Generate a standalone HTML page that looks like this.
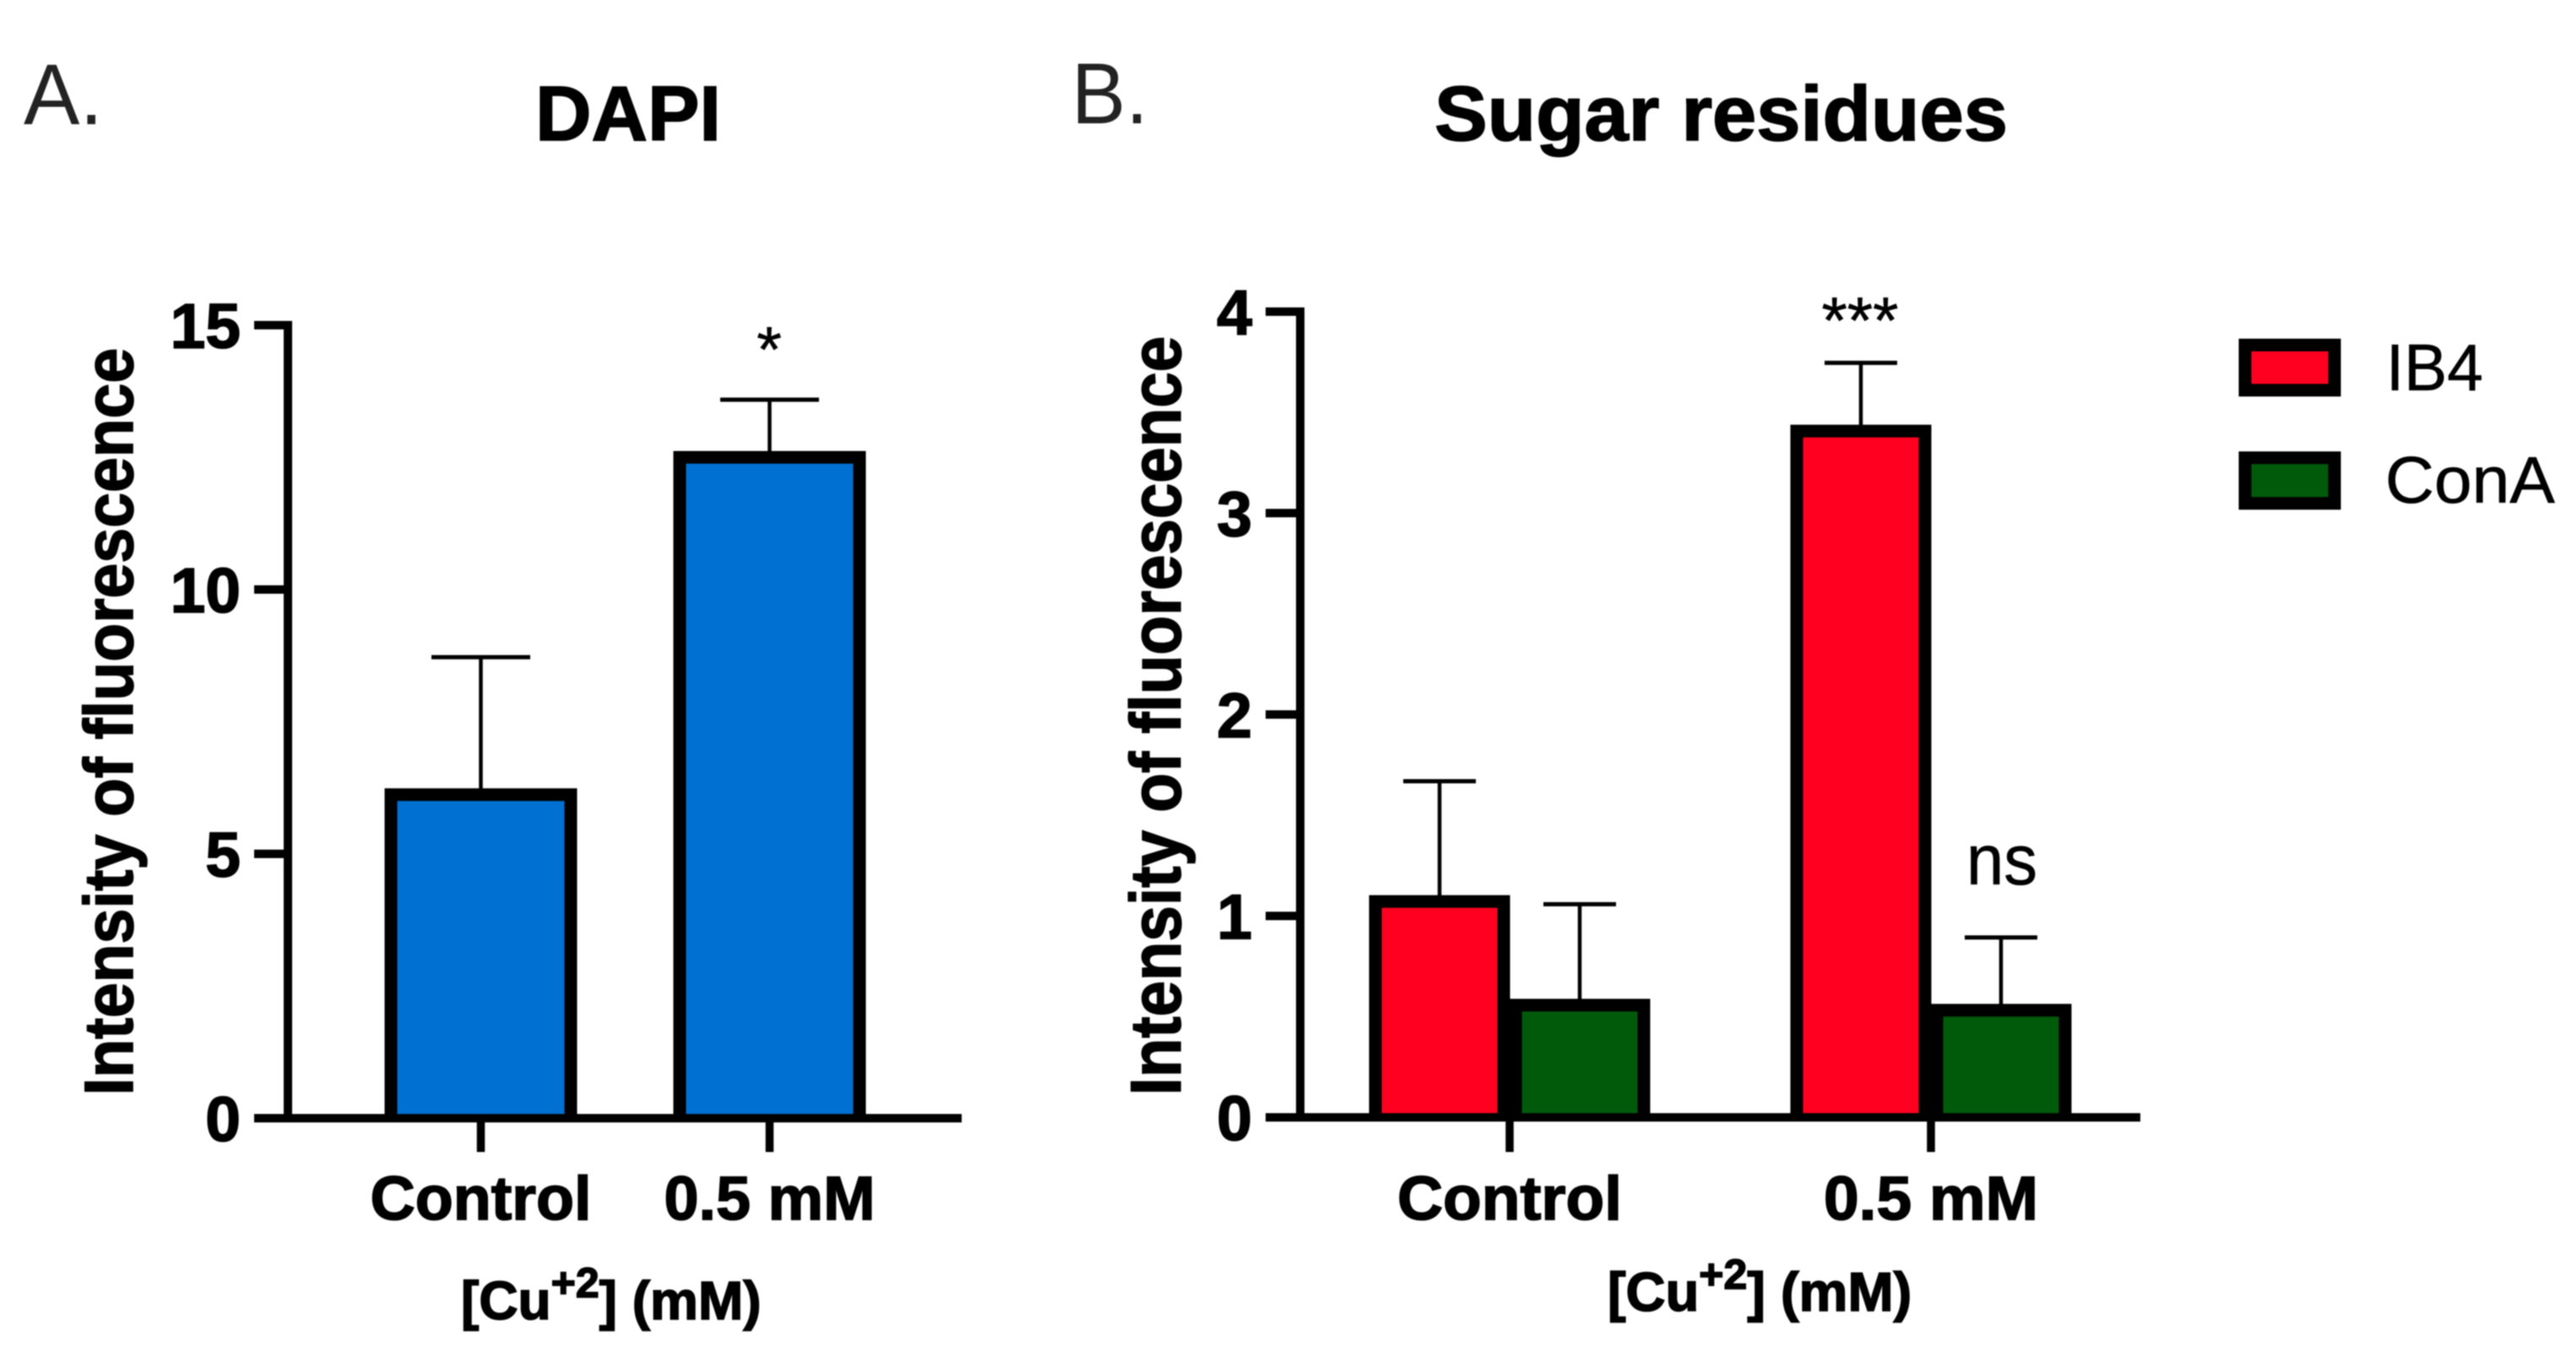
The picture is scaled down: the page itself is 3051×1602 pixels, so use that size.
<!DOCTYPE html>
<html lang="en">
<head>
<meta charset="utf-8">
<title>DAPI and Sugar residues fluorescence</title>
<style>
  html, body { margin: 0; padding: 0; background: #fff; }
  svg { display: block; filter: blur(0.7px); }
  text { font-family: "Liberation Sans", Arial, sans-serif; fill: #000; }
  .b { font-weight: 700; stroke: #000; stroke-width: 1.6px; }
  .r { stroke: #000; stroke-width: 0.6px; }
</style>
</head>
<body>
<svg id="figure" xmlns="http://www.w3.org/2000/svg" width="3051" height="1602" viewBox="0 0 3051 1602">
  <rect width="3051" height="1602" fill="#fff"/>

  <text x="28" y="147" font-size="102" style="fill:#222" textLength="94" lengthAdjust="spacingAndGlyphs">A.</text>
  <text x="1269" y="146" font-size="102" style="fill:#222" textLength="91" lengthAdjust="spacingAndGlyphs">B.</text>
  <text class="b" x="634" y="166" font-size="92" textLength="220" lengthAdjust="spacingAndGlyphs">DAPI</text>
  <text class="b" x="1699" y="166" font-size="92" textLength="679" lengthAdjust="spacingAndGlyphs">Sugar residues</text>

  <text class="b" transform="translate(157 1297) rotate(-90)" font-size="82" textLength="885" lengthAdjust="spacingAndGlyphs">Intensity of fluorescence</text>
  <text class="b" transform="translate(1398 1297) rotate(-90)" font-size="84" textLength="899" lengthAdjust="spacingAndGlyphs">Intensity of fluorescence</text>

  <text class="b" x="546" y="1562" font-size="64">[Cu<tspan font-size="50" dy="-26">+2</tspan><tspan dy="26">] (mM)</tspan></text>
  <text class="b" x="1904" y="1552" font-size="65">[Cu<tspan font-size="50" dy="-26">+2</tspan><tspan dy="26">] (mM)</tspan></text>

  <text class="r" x="911" y="440" font-size="76" text-anchor="middle">*</text>
  <text class="r" x="2203" y="406" font-size="78" text-anchor="middle">***</text>
  <text class="r" x="2329" y="1047" font-size="84" textLength="84" lengthAdjust="spacingAndGlyphs">ns</text>

  <g>
    <rect x="2659" y="408.5" width="106" height="53.5" fill="#ff0020" stroke="#000" stroke-width="15"/>
    <text class="r" x="2826" y="462" font-size="78" textLength="115" lengthAdjust="spacingAndGlyphs">IB4</text>
    <rect x="2659" y="542" width="106" height="54" fill="#005a0a" stroke="#000" stroke-width="15"/>
    <text class="r" x="2825" y="595" font-size="78" textLength="201" lengthAdjust="spacingAndGlyphs">ConA</text>
  </g>

  <g id="chart-a"></g>
  <g id="chart-b"></g>
</svg>

<script>
// Chart A data
const categoriesA = ['Control', '0.5 mM'];
const meansA = [6.12, 12.5];
const errorsA = [2.6, 1.09];
const ticksA = [0, 5, 10, 15];

// Chart B data
const categoriesB = ['Control', '0.5 mM'];
const meansIB4 = [1.072, 3.407];
const errorsIB4 = [0.597, 0.339];
const meansConA = [0.557, 0.532];
const errorsConA = [0.501, 0.361];
const ticksB = [0, 1, 2, 3, 4];

const NS = 'http://www.w3.org/2000/svg';
function mk(tag, parent, props) {
  const el = document.createElementNS(NS, tag);
  for (const k in props) el.setAttribute(k, props[k]);
  parent.appendChild(el);
  return el;
}

// Axis functions
const yA = v => 1324 - 62.6 * v;
const xA = i => 569.5 + 342 * i;
const yB = v => 1323 - 238.5 * v;
const xB = i => 1788 + 499 * i;

function drawBar(parent, cx, width, top, base, fill, name) {
  const left = cx - width / 2;
  const right = cx + width / 2;
  const d = 'M' + left + ' ' + base + ' V' + top + ' H' + right + ' V' + base;
  const r = mk('path', parent, { d: d, fill: fill, stroke: '#000', 'stroke-width': 15 });
  
  
}
function drawError(parent, cx, top, bottom, capW, name) {
  const g = mk('g', parent, {});
  
  
  mk('line', g, { x1: cx, x2: cx, y1: bottom, y2: top, stroke: '#000', 'stroke-width': 4.5 });
  mk('line', g, { x1: cx - capW / 2, x2: cx + capW / 2, y1: top, y2: top, stroke: '#000', 'stroke-width': 5 });
}
function drawAxes(parent, o) {
  const axisY = mk('line', parent, { x1: o.axisX, x2: o.axisX, y1: o.y(o.ticks[o.ticks.length - 1]) - 5, y2: o.y(0), stroke: '#000', 'stroke-width': 10 });
  
  
  const axisX = mk('line', parent, { x1: o.tickStart, x2: o.xEnd, y1: o.y(0), y2: o.y(0), stroke: '#000', 'stroke-width': 10 });
  
  
  o.ticks.forEach(t => {
    const mark = mk('line', parent, { x1: o.tickStart, x2: o.axisX, y1: o.y(t), y2: o.y(t), stroke: '#000', 'stroke-width': 10 });
    
    
    const label = mk('text', parent, { x: o.labelX, y: o.y(t) + 27, 'font-size': 75, 'text-anchor': 'end', 'class': 'b' });
    label.textContent = String(t);
    
    
  });
  o.categories.forEach((c, i) => {
    const mark = mk('line', parent, { x1: o.x(i), x2: o.x(i), y1: o.y(0), y2: 1364, stroke: '#000', 'stroke-width': 9.5 });
    
    
    const label = mk('text', parent, { x: o.x(i), y: 1444, 'font-size': 73, 'text-anchor': 'middle', 'class': 'b', textLength: o.labelWidths[i], lengthAdjust: 'spacingAndGlyphs' });
    label.textContent = c;
    
    
  });
}

// Draw chart A
const gA = document.getElementById('chart-a');
categoriesA.forEach((c, i) => {
  drawError(gA, xA(i), yA(meansA[i] + errorsA[i]), yA(meansA[i]), 117, 'error-bar-a-' + i);
  drawBar(gA, xA(i), 213, yA(meansA[i]), yA(0), '#0070d2', 'bar-a-' + i);
});
drawAxes(gA, { y: yA, x: xA, ticks: ticksA, categories: categoriesA, axisX: 341, tickStart: 301, xEnd: 1139, labelX: 285, labelWidths: [262, 250] });

// Draw chart B
const gB = document.getElementById('chart-b');
const barOffset = 83;
const barW = 152;
categoriesB.forEach((c, i) => {
  drawError(gB, xB(i) - barOffset, yB(meansIB4[i] + errorsIB4[i]), yB(meansIB4[i]), 86, 'error-bar-ib4-' + i);
  drawError(gB, xB(i) + barOffset, yB(meansConA[i] + errorsConA[i]), yB(meansConA[i]), 86, 'error-bar-cona-' + i);
  drawBar(gB, xB(i) - barOffset, barW, yB(meansIB4[i]), yB(0), '#ff0020', 'bar-ib4-' + i);
  drawBar(gB, xB(i) + barOffset, barW, yB(meansConA[i]), yB(0), '#005a0a', 'bar-cona-' + i);
});
drawAxes(gB, { y: yB, x: xB, ticks: ticksB, categories: categoriesB, axisX: 1540, tickStart: 1499, xEnd: 2535, labelX: 1483, labelWidths: [266, 254] });
</script>
</body>
</html>
